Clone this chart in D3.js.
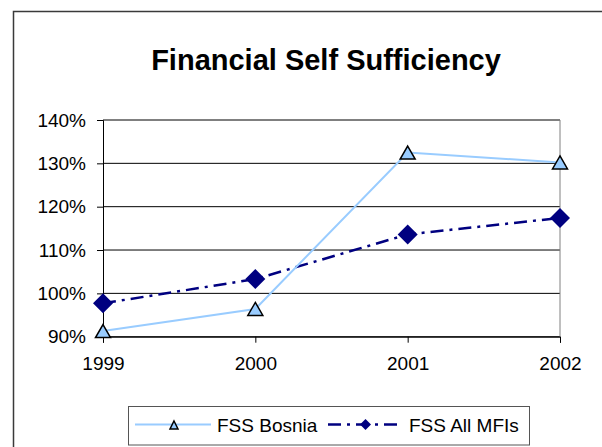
<!DOCTYPE html>
<html>
<head>
<meta charset="utf-8">
<script src="https://cdn.jsdelivr.net/npm/d3@7"></script>
<style>
  html, body { margin: 0; padding: 0; background: #fff; }
  svg { display: block; }
  text { font-family: "Liberation Sans", Arial, sans-serif; fill: #000; }
</style>
</head>
<body>
<svg id="chart" width="602" height="447"></svg>
<script>
const years = ["1999", "2000", "2001", "2002"];
const fssBosnia = [0.913, 0.964, 1.325, 1.302];
const fssAllMFIs = [0.977, 1.033, 1.136, 1.174];
const yTicks = [0.9, 1.0, 1.1, 1.2, 1.3, 1.4];
const title = "Financial Self Sufficiency";
const seriesNames = ["FSS Bosnia", "FSS All MFIs"];

const svg = d3.select("#chart");
const plot = { left: 103, right: 560, top: 120, bottom: 336.7 };

// outer chart border
svg.append("rect").attr("x", 13.5).attr("y", 11.5).attr("width", 620).attr("height", 460)
  .attr("fill", "#fff").attr("stroke", "#3a3a3a").attr("stroke-width", 1.5);

const x = d3.scalePoint().domain(years).range([plot.left, plot.right]);
const y = d3.scaleLinear().domain([0.9, 1.4]).range([plot.bottom, plot.top]);

// title
svg.append("text").attr("x", 326).attr("y", 69.5).attr("text-anchor", "middle")
  .attr("font-size", 29).attr("font-weight", "bold").text(title);

// gridlines
svg.append("g").selectAll("line").data(yTicks).join("line")
  .attr("x1", plot.left).attr("x2", plot.right)
  .attr("y1", d => y(d)).attr("y2", d => y(d))
  .attr("stroke", "#000").attr("stroke-width", 1);

// right border of plot area
svg.append("line").attr("x1", plot.right).attr("x2", plot.right)
  .attr("y1", plot.top).attr("y2", plot.bottom).attr("stroke", "#808080").attr("stroke-width", 1);

// y axis
const yAxis = d3.axisLeft(y).tickValues(yTicks).tickFormat(d3.format(".0%")).tickSizeOuter(0).tickSize(6).tickPadding(11);
const gy = svg.append("g").attr("transform", `translate(${plot.left},0)`).call(yAxis);
gy.select(".domain").attr("stroke", "#000");
gy.selectAll(".tick line").attr("stroke", "#000");
gy.selectAll("text").attr("font-size", 19).attr("font-family", "Liberation Sans, Arial, sans-serif").attr("fill", "#000");

// x axis
const xAxis = d3.axisBottom(x).tickSizeOuter(0).tickSize(6).tickPadding(14);
const gx = svg.append("g").attr("transform", `translate(0,${plot.bottom})`).call(xAxis);
gx.select(".domain").attr("stroke", "#000");
gx.selectAll(".tick line").attr("stroke", "#000");
gx.selectAll("text").attr("font-size", 19).attr("font-family", "Liberation Sans, Arial, sans-serif").attr("fill", "#000");

const bosniaColor = "#99CCFF", mfiColor = "#000080";
const line = d3.line().x((d, i) => x(years[i])).y(d => y(d));

svg.append("path").datum(fssAllMFIs).attr("d", line).attr("fill", "none")
  .attr("stroke", mfiColor).attr("stroke-width", 2.5).attr("stroke-dasharray", "13,6,3,6");
svg.append("path").datum(fssBosnia).attr("d", line).attr("fill", "none")
  .attr("stroke", bosniaColor).attr("stroke-width", 2);

function triPath(w, h) {
  return `M0,${-h / 2}L${w / 2},${h / 2}L${-w / 2},${h / 2}Z`;
}
function diaPath(w, h) {
  return `M0,${-h / 2}L${w / 2},0L0,${h / 2}L${-w / 2},0Z`;
}

svg.append("g").selectAll("path").data(fssAllMFIs).join("path")
  .attr("transform", (d, i) => `translate(${x(years[i])},${y(d)})`)
  .attr("d", diaPath(20, 20)).attr("fill", mfiColor);

svg.append("g").selectAll("path").data(fssBosnia).join("path")
  .attr("transform", (d, i) => `translate(${x(years[i])},${y(d)})`)
  .attr("d", triPath(15, 13)).attr("fill", bosniaColor).attr("stroke", "#000").attr("stroke-width", 1.5)
  .attr("stroke-linejoin", "miter");

// legend
const lg = svg.append("g");
lg.append("rect").attr("x", 128.5).attr("y", 406.5).attr("width", 401).attr("height", 38.5)
  .attr("fill", "#fff").attr("stroke", "#555").attr("stroke-width", 1);
const ly = 424.5;
lg.append("line").attr("x1", 135).attr("x2", 211).attr("y1", ly).attr("y2", ly)
  .attr("stroke", bosniaColor).attr("stroke-width", 2);
lg.append("path").attr("transform", `translate(174,${ly + 0.5})`).attr("d", triPath(8, 8))
  .attr("fill", bosniaColor).attr("stroke", "#000").attr("stroke-width", 1.5);
lg.append("text").attr("x", 217).attr("y", ly + 7).attr("font-size", 19).text(seriesNames[0]);

lg.append("line").attr("x1", 328).attr("x2", 398).attr("y1", ly).attr("y2", ly)
  .attr("stroke", mfiColor).attr("stroke-width", 2.5).attr("stroke-dasharray", "13,6,3,6");
lg.append("path").attr("transform", `translate(365.5,${ly})`).attr("d", diaPath(11, 11))
  .attr("fill", mfiColor);
lg.append("text").attr("x", 409).attr("y", ly + 7).attr("font-size", 19).text(seriesNames[1]);
</script>
</body>
</html>
